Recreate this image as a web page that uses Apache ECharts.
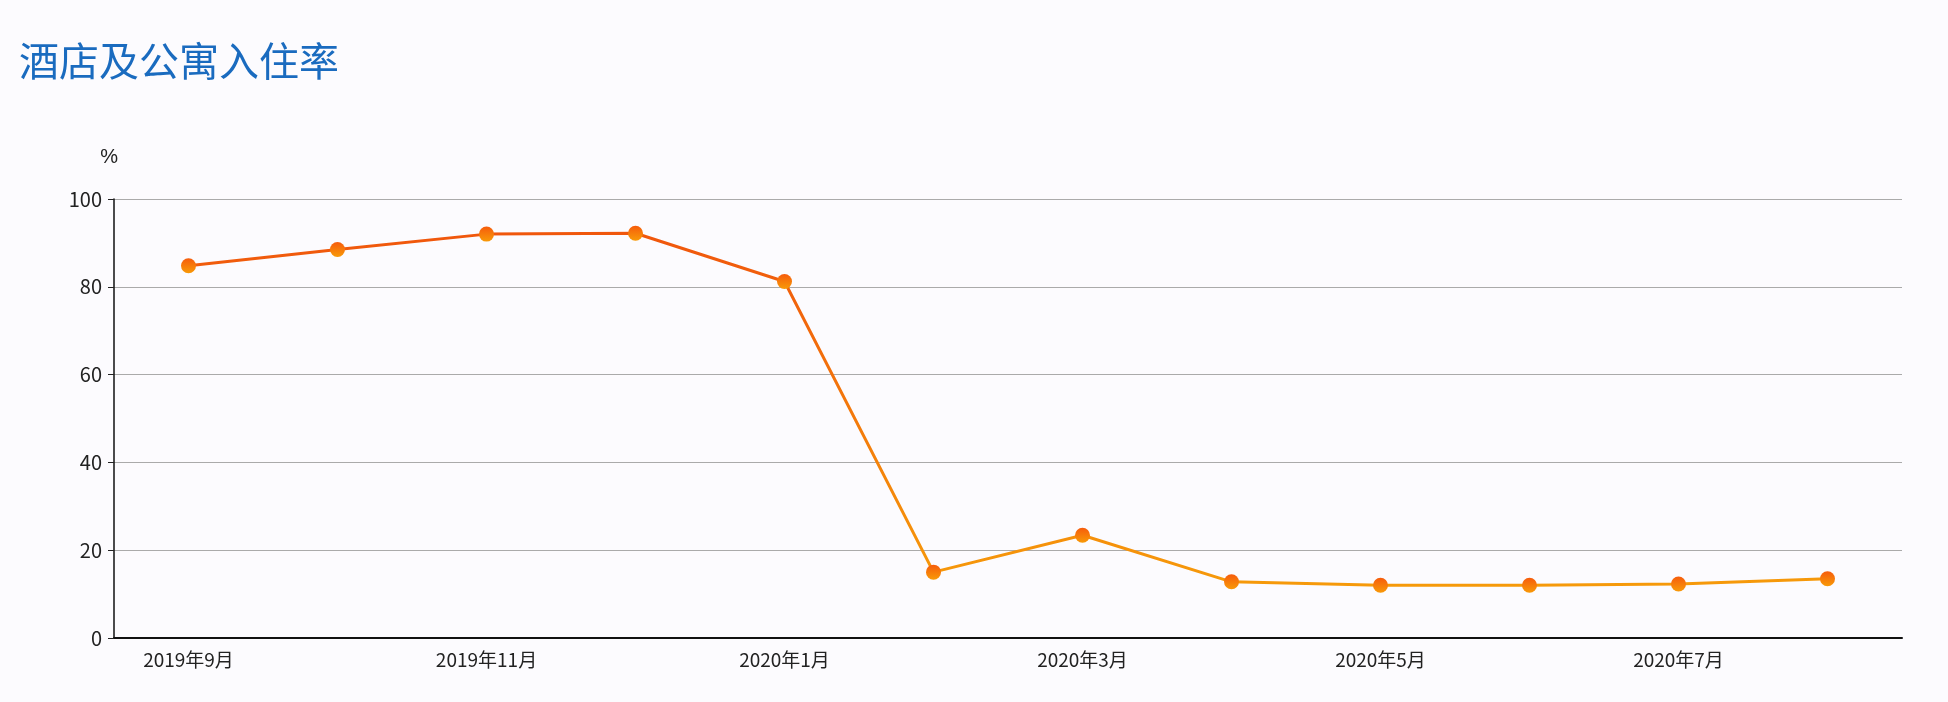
<!DOCTYPE html>
<html lang="zh">
<head>
<meta charset="UTF-8">
<title>酒店及公寓入住率</title>
<script src="https://cdn.jsdelivr.net/npm/echarts@6/dist/echarts.min.js"></script>
<style>html,body{margin:0;background:#fcfbfe;}#main{width:1948px;height:702px;}</style>
</head>
<body>
<div id="main"></div>
<script>
var months = ['2019年9月', '2019年10月', '2019年11月', '2019年12月', '2020年1月', '2020年2月',
    '2020年3月', '2020年4月', '2020年5月', '2020年6月', '2020年7月', '2020年8月'];
var rates = [84.8, 88.5, 92.0, 92.2, 81.2, 15.0, 23.4, 12.8, 12.0, 12.0, 12.3, 13.5];
var yTicks = [0, 20, 40, 60, 80, 100];

var chart = echarts.init(document.getElementById('main'));
var font = '"Noto Sans CJK SC", "Noto Sans", sans-serif';
chart.setOption({
    backgroundColor: '#fcfbfe',
    title: {
        text: '酒店及公寓入住率', left: 14, top: 36,
        textStyle: { color: '#1a6bbf', fontSize: 40, fontWeight: 'normal', fontFamily: font }
    },
    grid: { left: 114, right: 46, top: 199, bottom: 64 },
    xAxis: {
        type: 'category', data: months, boundaryGap: true,
        axisLine: { lineStyle: { color: '#111', width: 2 } },
        axisTick: { alignWithLabel: true, interval: function (i) { return i % 2 === 1; }, length: 7, lineStyle: { color: '#222' } },
        axisLabel: { interval: 1, color: '#222', fontSize: 19, margin: 12, fontFamily: font }
    },
    yAxis: {
        type: 'value', min: yTicks[0], max: yTicks[yTicks.length - 1], interval: 20,
        name: '%', nameGap: 32, nameTextStyle: { color: '#222', fontSize: 20, align: 'right', padding: [0, -4, 0, 0] },
        axisLine: { show: true, lineStyle: { color: '#111', width: 1.5 } },
        axisTick: { show: true, length: 6, lineStyle: { color: '#222' } },
        axisLabel: { color: '#222', fontSize: 20, margin: 12, fontFamily: font },
        splitLine: { lineStyle: { color: '#aaa' } }
    },
    series: [{
        type: 'line', data: rates, symbol: 'circle', symbolSize: 15,
        lineStyle: { width: 3, color: new echarts.graphic.LinearGradient(0, 0, 0, 1, [
            { offset: 0, color: '#f0560c' }, { offset: 1, color: '#f69a0a' }]) },
        itemStyle: { color: new echarts.graphic.LinearGradient(0, 0, 0, 1, [
            { offset: 0, color: '#f65c0c' }, { offset: 1, color: '#f89a08' }]) }
    }]
});
</script>
</body>
</html>
